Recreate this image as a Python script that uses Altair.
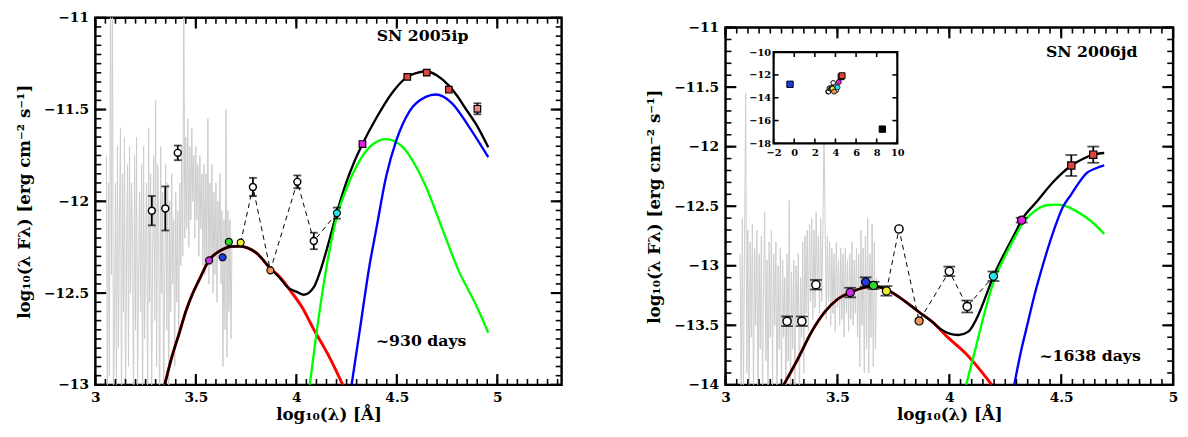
import altair as alt
import numpy as np
import pandas as pd

FONT = "DejaVu Serif"

# ======================= SN 2005ip (left panel) =======================
A_spec_x0 = 3.055
A_spec_step = 0.005
A_spec_y = [
    -11.75, -13.2, -11.9, -12.95, -10.8, -12.4, -10.8, -13.2, -12.7, -11.9,
    -13.1, -11.7, -12.8, -12.1, -11.6, -13.2, -11.85, -12.6, -11.65, -13.2,
    -12.3, -11.8, -12.9, -11.7, -12.5, -11.9, -12.2, -13.2, -11.75, -12.7,
    -11.65, -13.05, -12.4, -11.95, -12.6, -11.8, -13.2, -11.7, -12.75, -12.2,
    -11.9, -13.2, -11.6, -12.55, -11.85, -13.15, -12.3, -11.75, -12.65, -11.45,
    -12.9, -11.8, -12.1, -13.2, -11.7, -12.5, -11.95, -13.2, -12.4, -11.8,
    -12.7, -11.9, -13.2, -12.0, -12.6, -11.85, -12.45, -12.1, -12.9, -11.95,
    -12.55, -12.05, -12.75, -11.9, -12.35, -11.7, -12.3, -10.8, -12.2, -11.65,
    -12.15, -11.55, -12.25, -11.7, -12.1, -11.6, -12.0, -11.75, -12.2, -11.7,
    -12.1, -11.8, -12.3, -11.75, -12.15, -11.85, -12.35, -11.8, -12.4, -11.85,
    -12.3, -11.55, -12.45, -11.9, -12.35, -11.8, -12.5, -11.95, -12.4, -11.9,
    -12.55, -12.0, -12.3, -11.85, -12.45, -12.05, -12.9, -12.1, -12.7, -11.5,
    -12.85, -12.05, -12.6, -12.1, -12.75, -12.2,
]

A_red_x = [3.345, 3.38, 3.418, 3.45, 3.484, 3.52, 3.566, 3.62, 3.68, 3.72, 3.76, 3.80,
           3.87, 3.92, 3.97, 4.03, 4.087, 4.13, 4.169, 4.231]
A_red_y = [-13.0, -12.85, -12.716, -12.60, -12.503, -12.42, -12.32, -12.27, -12.246, -12.245,
           -12.255, -12.28, -12.365, -12.415, -12.486, -12.58, -12.698, -12.78, -12.858, -13.0]

A_blk_x = [3.345, 3.38, 3.418, 3.45, 3.484, 3.52, 3.566, 3.62, 3.68, 3.72, 3.76, 3.80, 3.87,
           3.92, 3.956, 4.005, 4.038, 4.087, 4.119, 4.152, 4.202, 4.251, 4.29, 4.329, 4.398,
           4.48, 4.552, 4.60, 4.649, 4.70, 4.759, 4.80, 4.841, 4.90, 4.955]
A_blk_y = [-13.0, -12.85, -12.716, -12.60, -12.503, -12.42, -12.32, -12.27, -12.246, -12.245,
           -12.255, -12.28, -12.365, -12.42, -12.468, -12.495, -12.509, -12.468, -12.38, -12.26,
           -12.06, -11.89, -11.78, -11.688, -11.546, -11.404, -11.322, -11.30, -11.293, -11.315,
           -11.37, -11.425, -11.493, -11.59, -11.705]

A_grn_x = [4.067, 4.10, 4.15, 4.20, 4.25, 4.316, 4.382, 4.447, 4.53, 4.60, 4.644, 4.726,
           4.808, 4.89, 4.955]
A_grn_y = [-13.0, -12.72, -12.36, -12.09, -11.93, -11.777, -11.688, -11.661, -11.705, -11.82,
           -11.918, -12.149, -12.379, -12.556, -12.716]

A_blu_x = [4.275, 4.316, 4.365, 4.398, 4.447, 4.497, 4.562, 4.644, 4.693, 4.775, 4.857, 4.955]
A_blu_y = [-13.0, -12.70, -12.344, -12.15, -11.865, -11.67, -11.511, -11.431, -11.418,
           -11.466, -11.59, -11.759]

A_open_x = [3.281, 3.348, 3.410, 3.784, 4.005, 4.087]
A_open_y = [-12.051, -12.039, -11.736, -11.922, -11.894, -12.216]
A_open_err = [0.08, 0.12, 0.04, 0.05, 0.035, 0.045]

A_circ_x = [3.566, 3.633, 3.664, 3.723, 3.871, 4.202]
A_circ_y = [-12.322, -12.305, -12.221, -12.225, -12.376, -12.064]
A_circ_err = [0, 0, 0, 0, 0, 0.03]
A_circ_col = ["#c431e6", "#1f3be0", "#2ed62e", "#f2ef2a", "#f0955a", "#27e3ef"]

A_sq_x = [4.329, 4.552, 4.649, 4.759, 4.901]
A_sq_y = [-11.688, -11.322, -11.299, -11.392, -11.496]
A_sq_err = [0, 0, 0, 0, 0.03]
A_sq_col = ["#e81fe8", "#e0443c", "#e0443c", "#e0443c", "#e98a86"]

A_dash_x = [3.723, 3.784, 3.871, 4.005, 4.087, 4.202]
A_dash_y = [-12.225, -11.922, -12.376, -11.894, -12.216, -12.064]

A_text = ["SN 2005ip", "~930 days"]
A_text_x = [4.628, 4.621]
A_text_y = [-11.099, -12.76]

A_xticks = [3, 3.5, 4, 4.5, 5]
A_yticks = [-13, -12.5, -12, -11.5, -11]

# ======================= SN 2006jd (right panel) =======================
B_spec_x0 = 3.065
B_spec_step = 0.005
B_spec_y = [
    -12.9, -14.2, -12.6, -14.1, -12.8, -11.55, -13.9, -12.7, -14.2, -12.8,
    -13.6, -12.65, -14.1, -12.85, -13.5, -12.7, -14.2, -12.9, -13.7, -12.75,
    -14.1, -13.2, -12.55, -13.8, -12.95, -14.2, -12.8, -13.6, -12.7, -14.0,
    -12.9, -13.5, -12.8, -14.2, -13.0, -13.7, -12.85, -14.1, -12.95, -13.6,
    -13.1, -14.2, -12.9, -13.8, -12.45, -14.2, -13.05, -13.7, -12.95, -14.1,
    -13.0, -13.5, -12.9, -14.2, -13.1, -13.6, -12.8, -13.9, -12.75, -13.4,
    -12.7, -13.55, -12.65, -13.3, -12.6, -13.45, -12.7, -13.35, -12.55, -13.2,
    -12.75, -13.4, -12.6, -13.3, -12.7, -11.85, -12.65, -13.45, -12.75, -13.3,
    -12.8, -13.5, -12.85, -13.4, -12.9, -13.55, -12.8, -13.35, -12.95, -13.5,
    -12.85, -13.45, -12.9, -13.6, -12.85, -13.4, -12.95, -13.55, -12.9, -13.45,
    -12.8, -13.5, -12.95, -13.4, -12.85, -13.6, -12.9, -13.85, -12.7, -13.5,
    -12.85, -13.9, -12.75, -13.7, -12.6, -13.9, -12.9, -13.6, -12.65, -13.85,
    -12.8, -13.7, -13.1,
]

B_red_x = [3.26, 3.326, 3.385, 3.443, 3.501, 3.557, 3.618, 3.66, 3.72, 3.778, 3.865, 3.924,
           3.997, 4.07, 4.129, 4.19]
B_red_y = [-14.0, -13.772, -13.553, -13.389, -13.28, -13.225, -13.184, -13.172, -13.20,
           -13.266, -13.389, -13.471, -13.608, -13.731, -13.855, -14.0]

B_blk_x = [3.26, 3.326, 3.385, 3.443, 3.501, 3.557, 3.618, 3.66, 3.72, 3.778, 3.865, 3.924,
           3.96, 3.997, 4.041, 4.085, 4.129, 4.158, 4.197, 4.246, 4.29, 4.323, 4.392, 4.465,
           4.545, 4.596, 4.643, 4.692]
B_blk_y = [-14.0, -13.772, -13.553, -13.389, -13.28, -13.225, -13.184, -13.172, -13.20,
           -13.266, -13.389, -13.471, -13.53, -13.567, -13.581, -13.553, -13.416, -13.28,
           -13.088, -12.897, -12.74, -12.617, -12.459, -12.295, -12.158, -12.103, -12.067,
           -12.053]

B_grn_x = [4.075, 4.114, 4.158, 4.202, 4.246, 4.29, 4.326, 4.392, 4.44, 4.479, 4.53, 4.567,
           4.63, 4.692]
B_grn_y = [-14.0, -13.718, -13.39, -13.11, -12.93, -12.77, -12.65, -12.527, -12.49, -12.486,
           -12.505, -12.541, -12.62, -12.732]

B_blu_x = [4.29, 4.32, 4.348, 4.38, 4.417, 4.46, 4.509, 4.545, 4.58, 4.611, 4.65, 4.692]
B_blu_y = [-14.0, -13.72, -13.5, -13.25, -13.0, -12.74, -12.50, -12.40, -12.30, -12.226,
           -12.185, -12.158]

B_open_x = [3.275, 3.341, 3.404, 3.775, 4.0, 4.08]
B_open_y = [-13.466, -13.466, -13.159, -12.691, -13.047, -13.342]
B_open_err = [0.04, 0.04, 0.04, 0, 0.04, 0.05]

B_circ_x = [3.557, 3.626, 3.661, 3.719, 3.865, 4.197, 4.323]
B_circ_y = [-13.225, -13.137, -13.165, -13.211, -13.463, -13.088, -12.617]
B_circ_err = [0.04, 0.04, 0.03, 0.04, 0, 0.04, 0.02]
B_circ_col = ["#c431e6", "#1f3be0", "#2ed62e", "#f2ef2a", "#f0955a", "#27e3ef", "#e81fe8"]

B_sq_x = [4.545, 4.643]
B_sq_y = [-12.158, -12.067]
B_sq_err = [0.088, 0.068]
B_sq_col = ["#e0443c", "#e0443c"]

B_dash_x = [3.719, 3.775, 3.865, 4.0, 4.08, 4.197]
B_dash_y = [-13.211, -12.691, -13.463, -13.047, -13.342, -13.088]

B_text = ["SN 2006jd", "~1638 days"]
B_text_x = [4.636, 4.629]
B_text_y = [-11.205, -13.758]

B_xticks = [3, 3.5, 4, 4.5, 5]
B_yticks = [-14, -13.5, -13, -12.5, -12, -11.5, -11]

# inset (full SED of SN 2006jd incl. X-ray and radio points)
I_extra_x = [-0.41, 8.55]
I_extra_y = [-12.82, -16.75]
I_extra_col = ["#1f3be0", "#000000"]
I_xticks = [-2, 0, 2, 4, 6, 8, 10]
I_yticks = [-18, -16, -14, -12, -10]

XTITLE = "log\u2081\u2080(\u03bb) [\u00c5]"
YTITLE = "log\u2081\u2080(\u03bb F\u03bb) [erg cm\u207b\u00b2 s\u207b\u00b9]"


def df_xy(xs, ys, **extra):
    d = pd.DataFrame({"x": xs, "y": ys})
    for k, v in extra.items():
        d[k] = v
    return d


def errdf(xs, ys, errs):
    d = pd.DataFrame({"x": xs, "y": ys, "e": errs})
    d = d[d["e"] > 0].copy()
    d["lo"] = d["y"] - d["e"]
    d["hi"] = d["y"] + d["e"]
    d["w"] = 1.8
    return d[["x", "lo", "hi", "w"]]


def axis_common(**kw):
    base = dict(grid=False, domain=False, ticks=False, labelColor="black",
                labelFont=FONT, labelFontWeight="bold", titleFont=FONT,
                titleFontWeight="bold", titleColor="black", format="~g", zindex=1)
    base.update(kw)
    return alt.Axis(**base)


def vticks(vals, edge, inward, width):
    """Vertical frame ticks (for top/bottom edges) in data units."""
    return pd.DataFrame({"x": [float(v) for v in vals], "lo": float(edge),
                         "hi": float(edge + inward), "w": float(width)})


def hticks(vals, edge, inward, width):
    """Horizontal frame ticks (for left/right edges) in data units."""
    return pd.DataFrame({"y": [float(v) for v in vals], "lo": float(edge),
                         "hi": float(edge + inward), "w": float(width)})


def make_panel(p):
    W, H = p["W"], p["H"]
    xd, yd = p["xdom"], p["ydom"]
    xs = alt.Scale(domain=xd, nice=False, zero=False)
    ys = alt.Scale(domain=yd, nice=False, zero=False)

    def X(f="x"):
        return alt.X(f"{f}:Q", scale=xs, axis=None)

    def Y(f="y"):
        return alt.Y(f"{f}:Q", scale=ys, axis=None)

    layers = []
    spec_x = [round(p["spec_x0"] + i * p["spec_step"], 4) for i in range(len(p["spec_y"]))]
    layers.append(alt.Chart(df_xy(spec_x, p["spec_y"])).mark_line(
        color="#cccccc", strokeWidth=1, clip=True).encode(x=X(), y=Y()))

    for (cx, cy, col, sw) in [(p["red_x"], p["red_y"], "#ff0000", 3.0),
                              (p["blk_x"], p["blk_y"], "#000000", 2.4),
                              (p["grn_x"], p["grn_y"], "#00ff00", 2.4),
                              (p["blu_x"], p["blu_y"], "#0000ff", 2.4)]:
        layers.append(alt.Chart(df_xy(cx, cy)).mark_line(
            color=col, strokeWidth=sw, interpolate="monotone", clip=True).encode(x=X(), y=Y()))

    layers.append(alt.Chart(df_xy(p["dash_x"], p["dash_y"])).mark_line(
        color="black", strokeWidth=1, strokeDash=[5, 4]).encode(x=X(), y=Y()))

    # error bar stems + vertical frame ticks (top & bottom edges) in one rule layer
    xmin = [round(float(v), 2) for v in np.arange(xd[0], xd[1] + 1e-9, 0.05)]
    ymin = [round(float(v), 2) for v in np.arange(yd[0], yd[1] + 1e-9, p["ymin_step"])]
    uy = (yd[1] - yd[0]) / H
    ux = (xd[1] - xd[0]) / W
    errs = pd.concat([errdf(p["open_x"], p["open_y"], p["open_err"]),
                      errdf(p["circ_x"], p["circ_y"], p["circ_err"]),
                      errdf(p["sq_x"], p["sq_y"], p["sq_err"])])
    vt = pd.concat([errs,
                    vticks(p["xticks"], yd[0], 11 * uy, 2.2), vticks(p["xticks"], yd[1], -11 * uy, 2.2),
                    vticks(xmin, yd[0], 6 * uy, 1.6), vticks(xmin, yd[1], -6 * uy, 1.6)],
                   ignore_index=True)
    layers.append(alt.Chart(vt).mark_rule(color="black").encode(
        x=X(), y=Y("lo"), y2="hi", strokeWidth=alt.StrokeWidth("w:Q", scale=None)))
    ht = pd.concat([hticks(p["yticks"], xd[0], 11 * ux, 2.2), hticks(p["yticks"], xd[1], -11 * ux, 2.2),
                    hticks(ymin, xd[0], 6 * ux, 1.6), hticks(ymin, xd[1], -6 * ux, 1.6)],
                   ignore_index=True)
    layers.append(alt.Chart(ht).mark_rule(color="black").encode(
        y=Y(), x=X("lo"), x2="hi", strokeWidth=alt.StrokeWidth("w:Q", scale=None)))

    for f in ["lo", "hi"]:
        layers.append(alt.Chart(errs).mark_tick(
            orient="horizontal", color="black", size=p["cap"], thickness=1.8).encode(x=X(), y=Y(f)))

    layers.append(alt.Chart(df_xy(p["open_x"], p["open_y"])).mark_point(
        shape="circle", filled=True, fill="white", stroke="black", strokeWidth=1.5,
        size=p["csize"], opacity=1).encode(x=X(), y=Y()))
    layers.append(alt.Chart(df_xy(p["circ_x"], p["circ_y"], col=p["circ_col"])).mark_point(
        shape="circle", filled=True, stroke="black", strokeWidth=1.2,
        size=p["csize"], opacity=1).encode(x=X(), y=Y(), fill=alt.Fill("col:N", scale=None)))
    layers.append(alt.Chart(df_xy(p["sq_x"], p["sq_y"], col=p["sq_col"])).mark_point(
        shape="square", filled=True, stroke="black", strokeWidth=1.2,
        size=p["ssize"], opacity=1).encode(x=X(), y=Y(), fill=alt.Fill("col:N", scale=None)))

    layers.append(alt.Chart(pd.DataFrame({"x": p["text_x"], "y": p["text_y"], "t": p["text"]})).mark_text(
        font=FONT, fontWeight="bold", fontSize=16, color="black").encode(x=X(), y=Y(), text="t:N"))

    # labelled axes
    carrier = df_xy(p["blk_x"], p["blk_y"])
    layers.append(alt.Chart(carrier).mark_point(opacity=0).encode(
        x=alt.X("x:Q", scale=xs, axis=axis_common(
            orient="bottom", values=p["xticks"], labelFlush=False, labelFontSize=14,
            labelPadding=6, title=XTITLE, titleFontSize=17, titlePadding=2)),
        y=alt.Y("y:Q", scale=ys, axis=axis_common(
            orient="left", values=p["yticks"], labelFontSize=14, labelPadding=7,
            title=YTITLE, titleFontSize=17, titlePadding=10))))

    # inset
    if p.get("inset"):
        ix0, ix1, iy0, iy1 = p["inset"]
        ixd = [I_xticks[0], I_xticks[-1]]
        iyd = [I_yticks[0], I_yticks[-1]]
        ixs = alt.Scale(domain=ixd, range=[ix0, ix1], nice=False, zero=False)
        iys = alt.Scale(domain=iyd, range=[iy0, iy1], nice=False, zero=False)

        def IX(f="x"):
            return alt.X(f"{f}:Q", scale=ixs, axis=None)

        def IY(f="y"):
            return alt.Y(f"{f}:Q", scale=iys, axis=None)

        frame = pd.DataFrame({"x": [ixd[0]], "x2": [ixd[1]], "y": [iyd[0]], "y2": [iyd[1]]})
        layers.append(alt.Chart(frame).mark_rect(fill="white", stroke="black", strokeWidth=2.2).encode(
            x=IX(), x2="x2", y=IY(), y2="y2"))
        t = 5
        iux = (ixd[1] - ixd[0]) / (ix1 - ix0)
        iuy = (iyd[1] - iyd[0]) / (iy0 - iy1)
        ivt = pd.concat([vticks(I_xticks, iyd[0], t * iuy, 1.6), vticks(I_xticks, iyd[1], -t * iuy, 1.6)])
        iht = pd.concat([hticks(I_yticks, ixd[0], t * iux, 1.6), hticks(I_yticks, ixd[1], -t * iux, 1.6)])
        layers.append(alt.Chart(ivt).mark_rule(color="black", strokeWidth=1.6).encode(
            x=IX(), y=IY("lo"), y2="hi"))
        layers.append(alt.Chart(iht).mark_rule(color="black", strokeWidth=1.6).encode(
            y=IY(), x=IX("lo"), x2="hi"))
        layers.append(alt.Chart(df_xy(p["open_x"], p["open_y"])).mark_point(
            shape="circle", filled=True, fill="white", stroke="black", strokeWidth=1,
            size=22, opacity=1).encode(x=IX(), y=IY()))
        layers.append(alt.Chart(df_xy(p["circ_x"], p["circ_y"], col=p["circ_col"])).mark_point(
            shape="circle", filled=True, stroke="black", strokeWidth=0.8,
            size=26, opacity=1).encode(x=IX(), y=IY(), fill=alt.Fill("col:N", scale=None)))
        layers.append(alt.Chart(df_xy(p["sq_x"], p["sq_y"], col=p["sq_col"])).mark_point(
            shape="square", filled=True, stroke="black", strokeWidth=1,
            size=36, opacity=1).encode(x=IX(), y=IY(), fill=alt.Fill("col:N", scale=None)))
        layers.append(alt.Chart(df_xy(I_extra_x, I_extra_y, col=I_extra_col)).mark_point(
            shape="square", filled=True, stroke="black", strokeWidth=1,
            size=42, opacity=1).encode(x=IX(), y=IY(), fill=alt.Fill("col:N", scale=None)))
        layers.append(alt.Chart(frame).mark_point(opacity=0).encode(
            x=alt.X("x:Q", scale=ixs, axis=axis_common(
                orient="bottom", values=I_xticks, offset=iy0 - H, format="d",
                labelFontSize=10, labelPadding=4, labelOverlap=False, labelFlush=False,
                title=None)),
            y=alt.Y("y:Q", scale=iys, axis=axis_common(
                orient="left", values=I_yticks, offset=-ix0, format="d",
                labelFontSize=10, labelPadding=3, labelOverlap=False, title=None))))

    ch = alt.layer(*layers).resolve_scale(x="independent", y="independent").properties(
        width=W, height=H)
    return ch


left = make_panel(dict(
    W=475, H=374, xdom=[3, 5.32], ydom=[-13, -11], ymin_step=0.05,
    spec_x0=A_spec_x0, spec_step=A_spec_step, spec_y=A_spec_y,
    red_x=A_red_x, red_y=A_red_y, blk_x=A_blk_x, blk_y=A_blk_y,
    grn_x=A_grn_x, grn_y=A_grn_y, blu_x=A_blu_x, blu_y=A_blu_y,
    dash_x=A_dash_x, dash_y=A_dash_y,
    open_x=A_open_x, open_y=A_open_y, open_err=A_open_err,
    circ_x=A_circ_x, circ_y=A_circ_y, circ_err=A_circ_err, circ_col=A_circ_col,
    sq_x=A_sq_x, sq_y=A_sq_y, sq_err=A_sq_err, sq_col=A_sq_col,
    text=A_text, text_x=A_text_x, text_y=A_text_y,
    xticks=A_xticks, yticks=A_yticks, cap=8, csize=50, ssize=45))

right = make_panel(dict(
    W=456, H=364, xdom=[3, 5], ydom=[-14, -11], ymin_step=0.1,
    spec_x0=B_spec_x0, spec_step=B_spec_step, spec_y=B_spec_y,
    red_x=B_red_x, red_y=B_red_y, blk_x=B_blk_x, blk_y=B_blk_y,
    grn_x=B_grn_x, grn_y=B_grn_y, blu_x=B_blu_x, blu_y=B_blu_y,
    dash_x=B_dash_x, dash_y=B_dash_y,
    open_x=B_open_x, open_y=B_open_y, open_err=B_open_err,
    circ_x=B_circ_x, circ_y=B_circ_y, circ_err=B_circ_err, circ_col=B_circ_col,
    sq_x=B_sq_x, sq_y=B_sq_y, sq_err=B_sq_err, sq_col=B_sq_col,
    text=B_text, text_x=B_text_x, text_y=B_text_y,
    xticks=B_xticks, yticks=B_yticks, cap=12, csize=70, ssize=55,
    inset=(49, 175, 118, 25)))

spacer = alt.Chart(pd.DataFrame({"x": [0]})).mark_point(opacity=0).encode(
    x=alt.value(0), y=alt.value(0)).properties(
    width=456, height=1, view=alt.ViewBackground(strokeOpacity=0))

right_col = alt.vconcat(spacer, right, spacing=9, bounds="flush")

chart = alt.hconcat(left, right_col, spacing=81).properties(
    padding={"left": 6, "top": -3, "right": 0, "bottom": 0},
    background="white",
).configure_view(stroke="black", strokeWidth=2.5)

chart.save("out.html", embed_options={"renderer": "svg", "actions": False})
